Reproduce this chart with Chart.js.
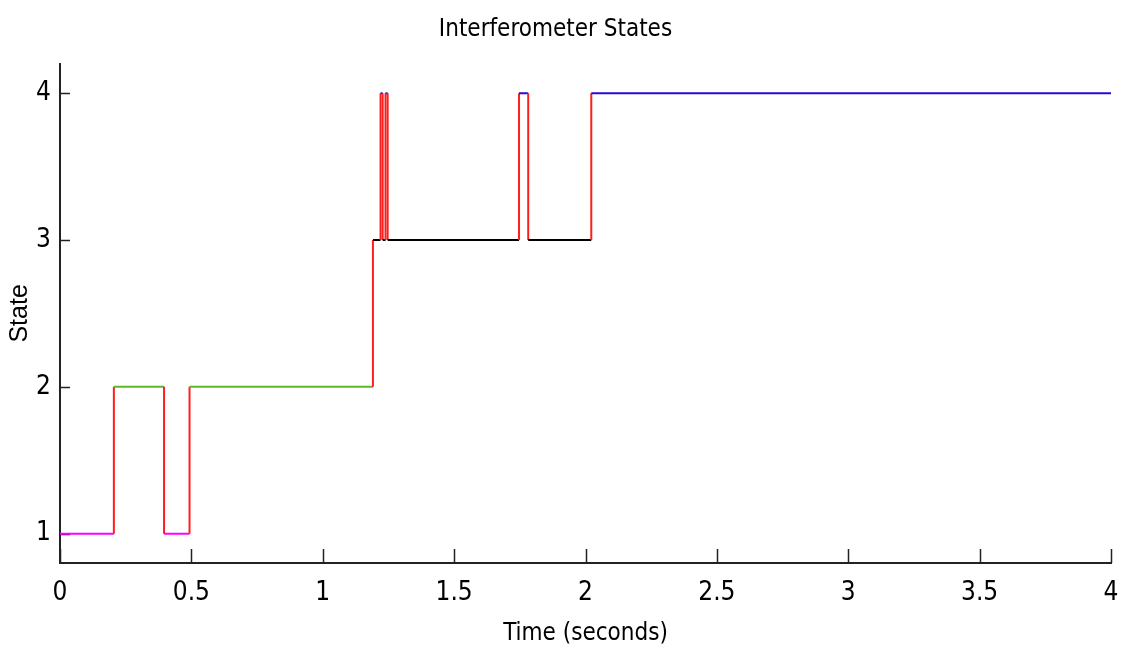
<!DOCTYPE html>
<html>
<head>
<meta charset="utf-8">
<script src="https://cdn.jsdelivr.net/npm/chart.js@4.4.0/dist/chart.umd.min.js"></script>
<style>
  body { margin: 0; background: #fff; }
  #wrap { width: 1123px; height: 654px; }
</style>
</head>
<body>
<div id="wrap"><canvas id="meuGrafico"></canvas></div>
<script>
// state change times (seconds) and the state held from each time to the next
const times  = [0, 0.205, 0.396, 0.493, 1.191, 1.220, 1.228, 1.239, 1.247, 1.747, 1.782, 2.022, 4.0];
const states = [1, 2, 1, 2, 3, 4, 3, 4, 3, 4, 3, 4];

const xTicks = [0, 0.5, 1, 1.5, 2, 2.5, 3, 3.5, 4];
const xTickLabels = ['0', '0.5', '1', '1.5', '2', '2.5', '3', '3.5', '4'];
const yTicks = [1, 2, 3, 4];
const yTickLabels = ['1', '2', '3', '4'];

const stateColors = { 1: '#ff00ff', 2: '#5cb82a', 3: '#000000', 4: '#2a0ad0' };
const transitionColor = '#ff1e1e';

// step points: hold each state until next change
var pontos = [];
for (var i = 0; i < states.length; i++) {
    pontos.push({ x: times[i], y: states[i] });
    pontos.push({ x: times[i + 1], y: states[i] });
}

const narrow = 'DejaVu Sans Condensed, Liberation Sans, sans-serif';

// ticks pointing into the plot, like the original
const ticksDentro = {
    id: 'ticksDentro',
    beforeDatasetsDraw(chart) {
        const ctx = chart.ctx;
        const area = chart.chartArea;
        const sx = chart.scales.x, sy = chart.scales.y;
        ctx.save();
        ctx.strokeStyle = '#222';
        ctx.lineWidth = 1.5;
        ctx.beginPath();
        xTicks.forEach(v => {
            const px = Math.round(sx.getPixelForValue(v)) + 0.5;
            ctx.moveTo(px, area.bottom);
            ctx.lineTo(px, area.bottom - 14);
        });
        yTicks.forEach(v => {
            const py = Math.round(sy.getPixelForValue(v)) + 0.5;
            ctx.moveTo(area.left, py);
            ctx.lineTo(area.left + 10, py);
        });
        ctx.stroke();
        ctx.restore();
    }
};

const contexto = document.getElementById('meuGrafico').getContext('2d');
const meuGrafico = new Chart(contexto, {
    type: 'line',
    data: {
        datasets: [{
            data: pontos,
            borderWidth: 2,
            pointRadius: 0,
            tension: 0,
            fill: false,
            segment: {
                borderColor: c => c.p0.parsed.y !== c.p1.parsed.y ? transitionColor : stateColors[c.p0.parsed.y]
            }
        }]
    },
    options: {
        responsive: true,
        maintainAspectRatio: false,
        animation: false,
        layout: { padding: { left: 0, right: 12, top: 0, bottom: 0 } },
        plugins: {
            legend: { display: false },
            tooltip: { enabled: false },
            title: {
                display: true,
                text: 'Interferometer States',
                color: '#000',
                font: { family: narrow, size: 24, weight: 'normal', lineHeight: 1.2 },
                padding: { top: 15, bottom: 20 }
            }
        },
        scales: {
            x: {
                type: 'linear',
                min: 0,
                max: 4,
                afterFit: s => { s.height = 91; s.paddingRight = 0; s.paddingLeft = 0; },
                afterBuildTicks: s => { s.ticks = xTicks.map(v => ({ value: v })); },
                ticks: {
                    color: '#000',
                    font: { family: narrow, size: 26 },
                    padding: 15,
                    maxRotation: 0,
                    autoSkip: false,
                    callback: (v, i) => xTickLabels[i]
                },
                grid: { display: false, drawTicks: false },
                border: { display: true, color: '#222', width: 2 },
                title: {
                    display: true,
                    text: 'Time (seconds)',
                    color: '#000',
                    font: { family: narrow, size: 24, lineHeight: 1.2 },
                    padding: { top: 0, bottom: 6 }
                }
            },
            y: {
                type: 'linear',
                min: 0.8,
                max: 4.2,
                afterFit: s => { s.width = 60; },
                afterBuildTicks: s => { s.ticks = yTicks.map(v => ({ value: v })); },
                ticks: {
                    color: '#000',
                    font: { family: narrow, size: 26 },
                    padding: 9,
                    autoSkip: false,
                    callback: (v, i) => yTickLabels[i]
                },
                grid: { display: false, drawTicks: false },
                border: { display: true, color: '#222', width: 2 },
                title: {
                    display: true,
                    text: 'State',
                    color: '#000',
                    font: { family: 'Liberation Sans, Arial, sans-serif', size: 25, lineHeight: 1.2 },
                    padding: { top: 5, bottom: 0 }
                }
            }
        }
    },
    plugins: [ticksDentro]
});
</script>
</body>
</html>
